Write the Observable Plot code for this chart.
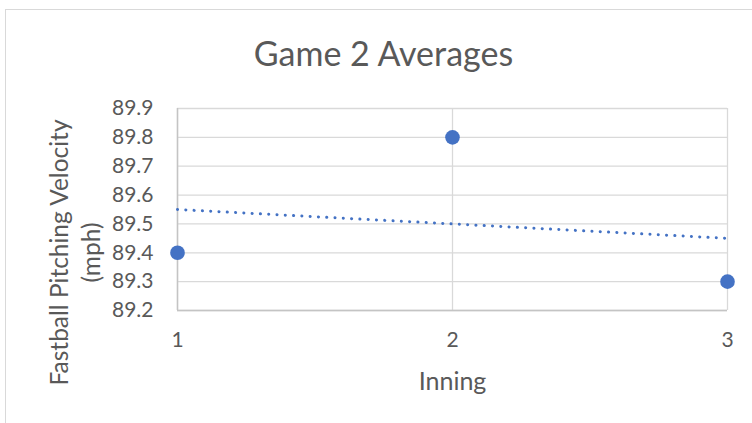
<!DOCTYPE html>
<html><head><meta charset="utf-8">
<script src="https://cdn.jsdelivr.net/npm/d3@7"></script>
<script src="https://cdn.jsdelivr.net/npm/@observablehq/plot@0.6"></script>
<style>
body{margin:0;background:#fff;}
#wrap{position:relative;width:752px;height:423px;overflow:hidden;background:#fff;}
#chart{position:absolute;left:0;top:0;}
#frame{position:absolute;left:5px;top:9px;width:800px;height:500px;border:1px solid #d9d9d9;box-sizing:border-box;pointer-events:none;}
</style></head><body>
<div id="wrap"><div id="chart"></div><div id="frame"></div></div>
<script>
const innings = [1, 2, 3];
const velocities = [89.4, 89.8, 89.3];
const yTicks = [89.2, 89.3, 89.4, 89.5, 89.6, 89.7, 89.8, 89.9];
const xTicks = [1, 2, 3];
const titleText = "Game 2 Averages";
const xLabel = "Inning";
const yLabel = "Fastball Pitching Velocity\n(mph)";

const data = innings.map((x, i) => ({inning: x, velocity: velocities[i]}));
const textColor = "#595959";
const blue = "#4472C4";

const chart = Plot.plot({
  width: 752,
  height: 423,
  marginLeft: 177,
  marginRight: 25,
  marginTop: 108,
  marginBottom: 113,
  style: {fontFamily: "Lato", background: "transparent", color: textColor},
  x: {domain: [1, 3]},
  y: {domain: [89.2, 89.9]},
  marks: [
    Plot.gridY(yTicks, {stroke: "#d9d9d9", strokeOpacity: 1, strokeWidth: 1.3}),
    Plot.gridX(xTicks, {stroke: "#d9d9d9", strokeOpacity: 1, strokeWidth: 1.3}),
    Plot.ruleY([89.2], {stroke: "#c4c4c4", strokeWidth: 1.5}),
    Plot.ruleX([1], {stroke: "#c4c4c4", strokeWidth: 1.5}),
    Plot.axisY(yTicks, {tickSize: 0, tickPadding: 24, fontSize: 21, color: textColor, tickFormat: d3.format(".1f"), label: null}),
    Plot.axisX(xTicks, {tickSize: 0, tickPadding: 22, fontSize: 21, color: textColor, tickFormat: d3.format("d"), label: null}),
    Plot.linearRegressionY(data, {x: "inning", y: "velocity", stroke: blue, strokeWidth: 3, strokeDasharray: "0.1,8.2", strokeLinecap: "round", ci: 0}),
    Plot.dot(data, {x: "inning", y: "velocity", r: 7.3, fill: blue, stroke: "none"}),
    Plot.text([titleText], {frameAnchor: "top", dx: -69, dy: -53, lineAnchor: "middle", fontSize: 34, fill: textColor}),
    Plot.text([xLabel], {frameAnchor: "bottom", dy: 71, lineAnchor: "middle", fontSize: 25, fill: textColor}),
    Plot.text([yLabel], {frameAnchor: "left", rotate: -90, dx: -104, dy: 43, textAnchor: "middle", lineAnchor: "middle", lineHeight: 1.3, fontSize: 24.5, fill: textColor})
  ]
});
document.getElementById("chart").appendChild(chart);
</script>
</body></html>
